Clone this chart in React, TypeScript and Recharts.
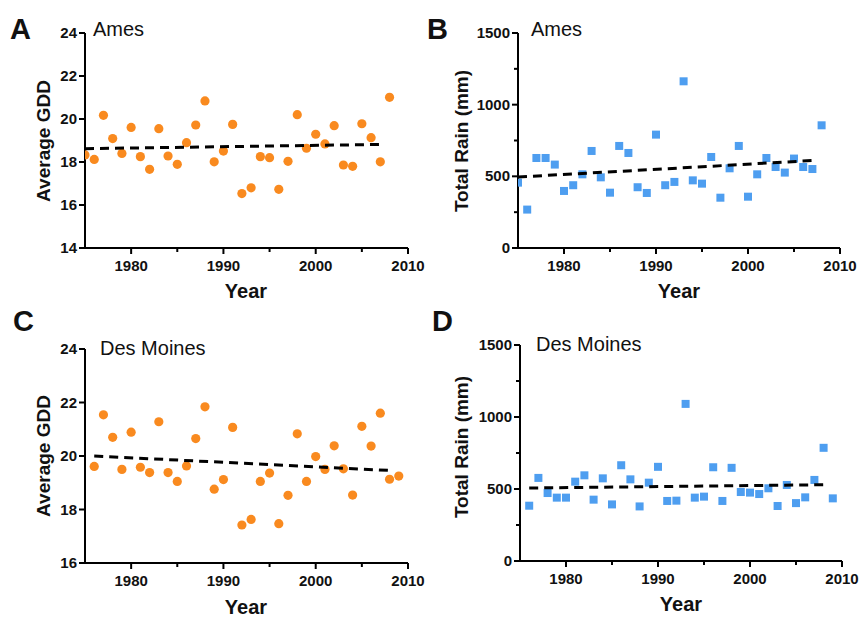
import { ScatterChart, Scatter, XAxis, YAxis } from 'recharts';

const amesYears = [1975, 1976, 1977, 1978, 1979, 1980, 1981, 1982, 1983, 1984, 1985, 1986, 1987, 1988, 1989, 1990, 1991, 1992, 1993, 1994, 1995, 1996, 1997, 1998, 1999, 2000, 2001, 2002, 2003, 2004, 2005, 2006, 2007, 2008];
const amesGdd = [18.33, 18.12, 20.17, 19.09, 18.4, 19.61, 18.25, 17.66, 19.55, 18.28, 17.89, 18.9, 19.72, 20.84, 18.01, 18.51, 19.75, 16.53, 16.8, 18.25, 18.2, 16.73, 18.03, 20.2, 18.64, 19.29, 18.84, 19.69, 17.86, 17.8, 19.78, 19.13, 18.01, 21.01];
const amesRain = [456, 268, 628, 628, 582, 398, 438, 514, 677, 493, 386, 712, 663, 424, 384, 791, 438, 461, 1163, 472, 449, 635, 351, 556, 712, 358, 514, 628, 565, 526, 624, 565, 551, 856];

const dsmYears = [1976, 1977, 1978, 1979, 1980, 1981, 1982, 1983, 1984, 1985, 1986, 1987, 1988, 1989, 1990, 1991, 1992, 1993, 1994, 1995, 1996, 1997, 1998, 1999, 2000, 2001, 2002, 2003, 2004, 2005, 2006, 2007, 2008, 2009];
const dsmGdd = [19.61, 21.54, 20.7, 19.5, 20.89, 19.58, 19.38, 21.28, 19.38, 19.05, 19.63, 20.65, 21.84, 18.76, 19.12, 21.07, 17.42, 17.63, 19.05, 19.36, 17.47, 18.53, 20.83, 19.05, 19.98, 19.5, 20.38, 19.52, 18.54, 21.11, 20.37, 21.6, 19.13, 19.25];
const dsmRain = [384, 577, 472, 440, 440, 551, 595, 426, 574, 393, 665, 567, 379, 544, 654, 417, 419, 1091, 440, 447, 651, 417, 647, 479, 475, 465, 505, 382, 528, 402, 442, 563, 786, 435];

// fitted trend lines (endpoints)
const amesGddTrendX = [1975, 2007.5];
const amesGddTrendY = [18.62, 18.82];
const amesRainTrendX = [1975, 2007.5];
const amesRainTrendY = [495, 612];
const dsmGddTrendX = [1976, 2008];
const dsmGddTrendY = [20.0, 19.46];
const dsmRainTrendX = [1976, 2008.5];
const dsmRainTrendY = [507, 530];

const yearTicks = [1980, 1985, 1990, 1995, 2000, 2005, 2010];
const gddTicksAmes = [14, 16, 18, 20, 22, 24];
const gddTicksDsm = [16, 18, 20, 22, 24];
const rainTicks = [0, 250, 500, 750, 1000, 1250, 1500];

const ORANGE = '#F98A1F';
const BLUE = '#4E9EF0';
const FONT = 'Arial, "Liberation Sans", Helvetica, sans-serif';

const pairs = (xs: number[], ys: number[]) => xs.map((x, i) => ({ x, y: ys[i] }));

const XTick = (props: any) => {
  const { x, y, payload } = props;
  const major = payload.value % 10 === 0;
  return (
    <g>
      <line x1={x} x2={x} y1={y} y2={y + (major ? 6 : 4)} stroke="#000" strokeWidth={2} />
      {major && (
        <text x={x} y={y + 23} textAnchor="middle" fontSize={15} fontWeight="bold" fontFamily={FONT} fill="#111">
          {payload.value}
        </text>
      )}
    </g>
  );
};

const makeYTick = (step: number) => (props: any) => {
  const { x, y, payload } = props;
  const major = payload.value % step === 0;
  return (
    <g>
      <line x1={x - (major ? 6 : 4)} x2={x} y1={y} y2={y} stroke="#000" strokeWidth={2} />
      {major && (
        <text x={x - 8} y={y + 5} textAnchor="end" fontSize={15} fontWeight="bold" fontFamily={FONT} fill="#111">
          {payload.value}
        </text>
      )}
    </g>
  );
};

const Dot = (props: any) => <circle cx={props.cx} cy={props.cy} r={4.6} fill={ORANGE} />;
const Square = (props: any) => <rect x={props.cx - 4} y={props.cy - 4} width={8} height={8} fill={BLUE} />;

interface PanelProps {
  left: number;
  top: number;
  width: number;
  height: number;
  marginTop: number;
  marginRight: number;
  yWidth: number;
  xHeight: number;
  yDomain: [number, number];
  yTicks: number[];
  yStep: number;
  points: { x: number; y: number }[];
  trend: { x: number; y: number }[];
  square?: boolean;
}

function Panel(p: PanelProps) {
  return (
    <div style={{ position: 'absolute', left: p.left, top: p.top }}>
      <ScatterChart width={p.width} height={p.height} margin={{ top: p.marginTop, right: p.marginRight, bottom: 0, left: 0 }}>
        <XAxis
          type="number"
          dataKey="x"
          domain={[1975, 2010]}
          ticks={yearTicks}
          allowDataOverflow
          height={p.xHeight}
          axisLine={{ stroke: '#000', strokeWidth: 2 }}
          tickLine={false}
          tickSize={0}
          tickMargin={0}
          tick={<XTick />}
          interval={0}
        />
        <YAxis
          type="number"
          dataKey="y"
          domain={p.yDomain}
          ticks={p.yTicks}
          allowDataOverflow
          width={p.yWidth}
          axisLine={{ stroke: '#000', strokeWidth: 2 }}
          tickLine={false}
          tickSize={0}
          tickMargin={0}
          tick={makeYTick(p.yStep)}
          interval={0}
        />
        <Scatter data={p.points} shape={p.square ? Square : Dot} isAnimationActive={false} />
        <Scatter
          data={p.trend}
          line={{ stroke: '#000', strokeWidth: 3, strokeDasharray: '9 6' }}
          shape={() => <g />}
          isAnimationActive={false}
        />
      </ScatterChart>
    </div>
  );
}

const txt = (extra: React.CSSProperties): React.CSSProperties => ({
  position: 'absolute',
  fontFamily: FONT,
  color: '#111',
  whiteSpace: 'nowrap',
  lineHeight: 1,
  ...extra,
});

const Letter = ({ ch, x, y }: { ch: string; x: number; y: number }) => (
  <div style={txt({ left: x, top: y, fontSize: 29, fontWeight: 'bold' })}>{ch}</div>
);

const Title = ({ text, x, y }: { text: string; x: number; y: number }) => (
  <div style={txt({ left: x, top: y, fontSize: 20 })}>{text}</div>
);

const XTitle = ({ x, y }: { x: number; y: number }) => (
  <div style={txt({ left: x, top: y, fontSize: 20, fontWeight: 'bold', transform: 'translateX(-50%)' })}>Year</div>
);

const YTitle = ({ text, cx, cy }: { text: string; cx: number; cy: number }) => (
  <div
    style={txt({
      left: cx,
      top: cy,
      fontSize: 19,
      fontWeight: 'bold',
      transform: 'translate(-50%, -50%) rotate(-90deg)',
    })}
  >
    {text}
  </div>
);

export default function App() {
  return (
    <div style={{ position: 'absolute', left: 0, top: 0, width: 862, height: 619, background: '#fff', overflow: 'hidden' }}>
      <Panel left={0} top={0} width={430} height={310} marginTop={33} marginRight={22} yWidth={85} xHeight={62}
        yDomain={[14, 24]} yTicks={gddTicksAmes} yStep={2}
        points={pairs(amesYears, amesGdd)} trend={pairs(amesGddTrendX, amesGddTrendY)} />
      <Panel left={430} top={0} width={432} height={310} marginTop={33} marginRight={22} yWidth={88} xHeight={62}
        yDomain={[0, 1500]} yTicks={rainTicks} yStep={500} square
        points={pairs(amesYears, amesRain)} trend={pairs(amesRainTrendX, amesRainTrendY)} />
      <Panel left={0} top={310} width={430} height={309} marginTop={39} marginRight={22} yWidth={85} xHeight={56}
        yDomain={[16, 24]} yTicks={gddTicksDsm} yStep={2}
        points={pairs(dsmYears, dsmGdd)} trend={pairs(dsmGddTrendX, dsmGddTrendY)} />
      <Panel left={430} top={310} width={432} height={309} marginTop={35} marginRight={20} yWidth={90} xHeight={58}
        yDomain={[0, 1500]} yTicks={rainTicks} yStep={500} square
        points={pairs(dsmYears, dsmRain)} trend={pairs(dsmRainTrendX, dsmRainTrendY)} />

      <Letter ch="A" x={10} y={15} />
      <Letter ch="B" x={427} y={15} />
      <Letter ch="C" x={13} y={307} />
      <Letter ch="D" x={432} y={307} />

      <Title text="Ames" x={93} y={19} />
      <Title text="Ames" x={531} y={19} />
      <Title text="Des Moines" x={100} y={338} />
      <Title text="Des Moines" x={536} y={334} />

      <XTitle x={246} y={281} />
      <XTitle x={679} y={281} />
      <XTitle x={246} y={597} />
      <XTitle x={681} y={594} />

      <YTitle text="Average GDD" cx={43} cy={141} />
      <YTitle text="Total Rain (mm)" cx={461} cy={141} />
      <YTitle text="Average GDD" cx={43} cy={456} />
      <YTitle text="Total Rain (mm)" cx={461} cy={447} />
    </div>
  );
}
